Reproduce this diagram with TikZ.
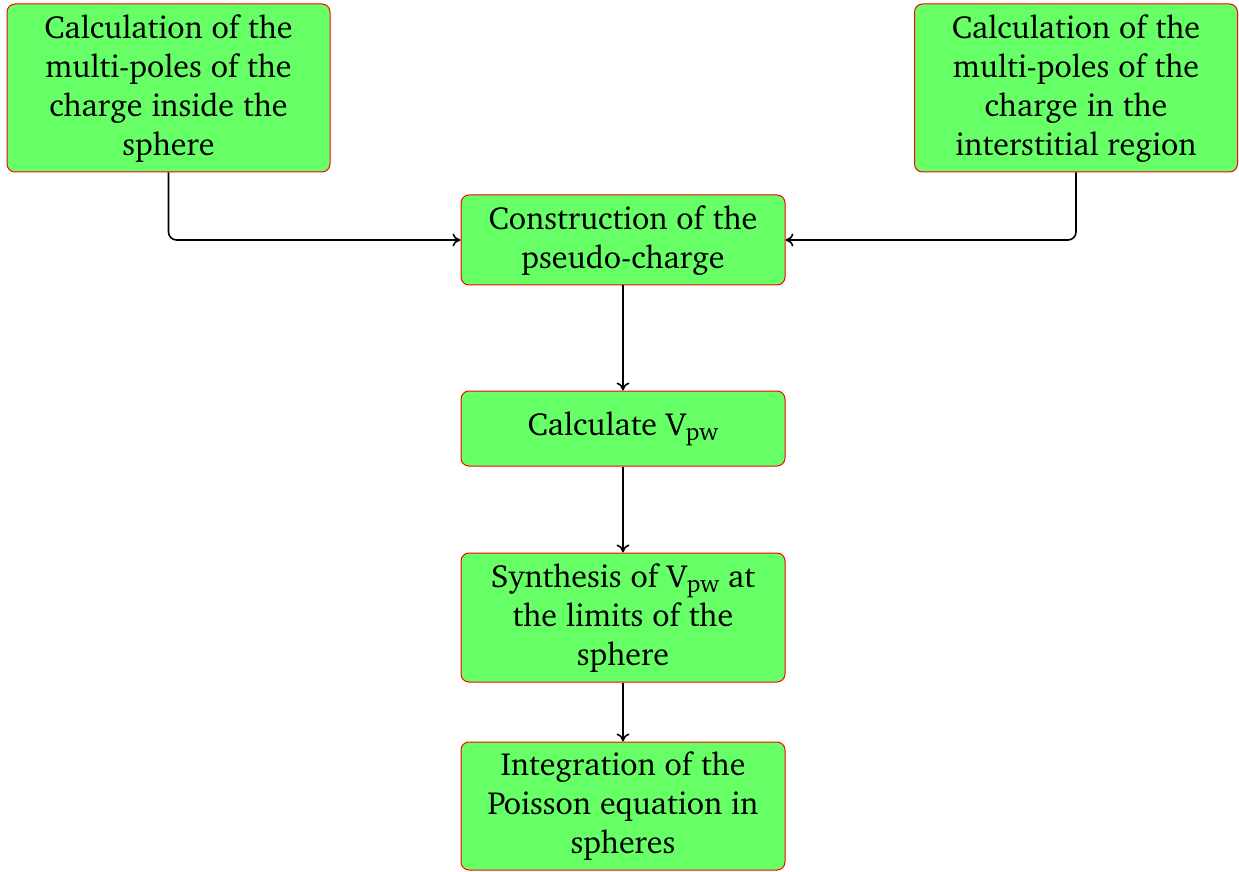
\documentclass[tikz,border=0pt]{standalone}
\usepackage[T1]{fontenc}
\usepackage{charter}
\usetikzlibrary{arrows.meta}
\newcommand\mysub[1]{\raisebox{-2.5pt}{\fontsize{12.3}{12.3}\selectfont #1}}
\begin{document}
\begin{tikzpicture}[x=0.5pt,y=-0.5pt,
  box/.style={draw=red, line width=0.5pt, fill={rgb,255:red,102;green,255;blue,102}, rounded corners=4pt,
    align=center, minimum width=162pt, inner sep=0pt,
    font=\fontsize{16}{19.5}\selectfont},
  conn/.style={line width=0.8pt, -{To[length=4pt,width=6.5pt]}, rounded corners=4pt}]
\useasboundingbox (0,0) rectangle (1239,872);
\node[box, minimum width=161.5pt, minimum height=84pt] (tl) at (168.5,88) {Calculation of the\\multi-poles of the\\charge inside the\\sphere};
\node[box, minimum width=161.5pt, minimum height=84pt] (tr) at (1076,88) {Calculation of the\\multi-poles of the\\charge in the\\interstitial region};
\node[box, minimum height=45pt] (pc) at (623,240) {Construction of the\\pseudo-charge};
\node[box, minimum height=37.5pt] (vp) at (623,428.5) {Calculate V\mysub{pw}};
\node[box, minimum height=64.5pt] (sy) at (623,617.5) {Synthesis of V\mysub{pw} at\\the limits of the\\sphere};
\node[box, minimum height=64pt] (in) at (623,806) {Integration of the\\Poisson equation in\\spheres};
\draw[conn] (tl.south) |- (pc.west);
\draw[conn] (tr.south) |- (pc.east);
\draw[conn] (pc) -- (vp);
\draw[conn] (vp) -- (sy);
\draw[conn] (sy) -- (in);
\end{tikzpicture}
\end{document}
